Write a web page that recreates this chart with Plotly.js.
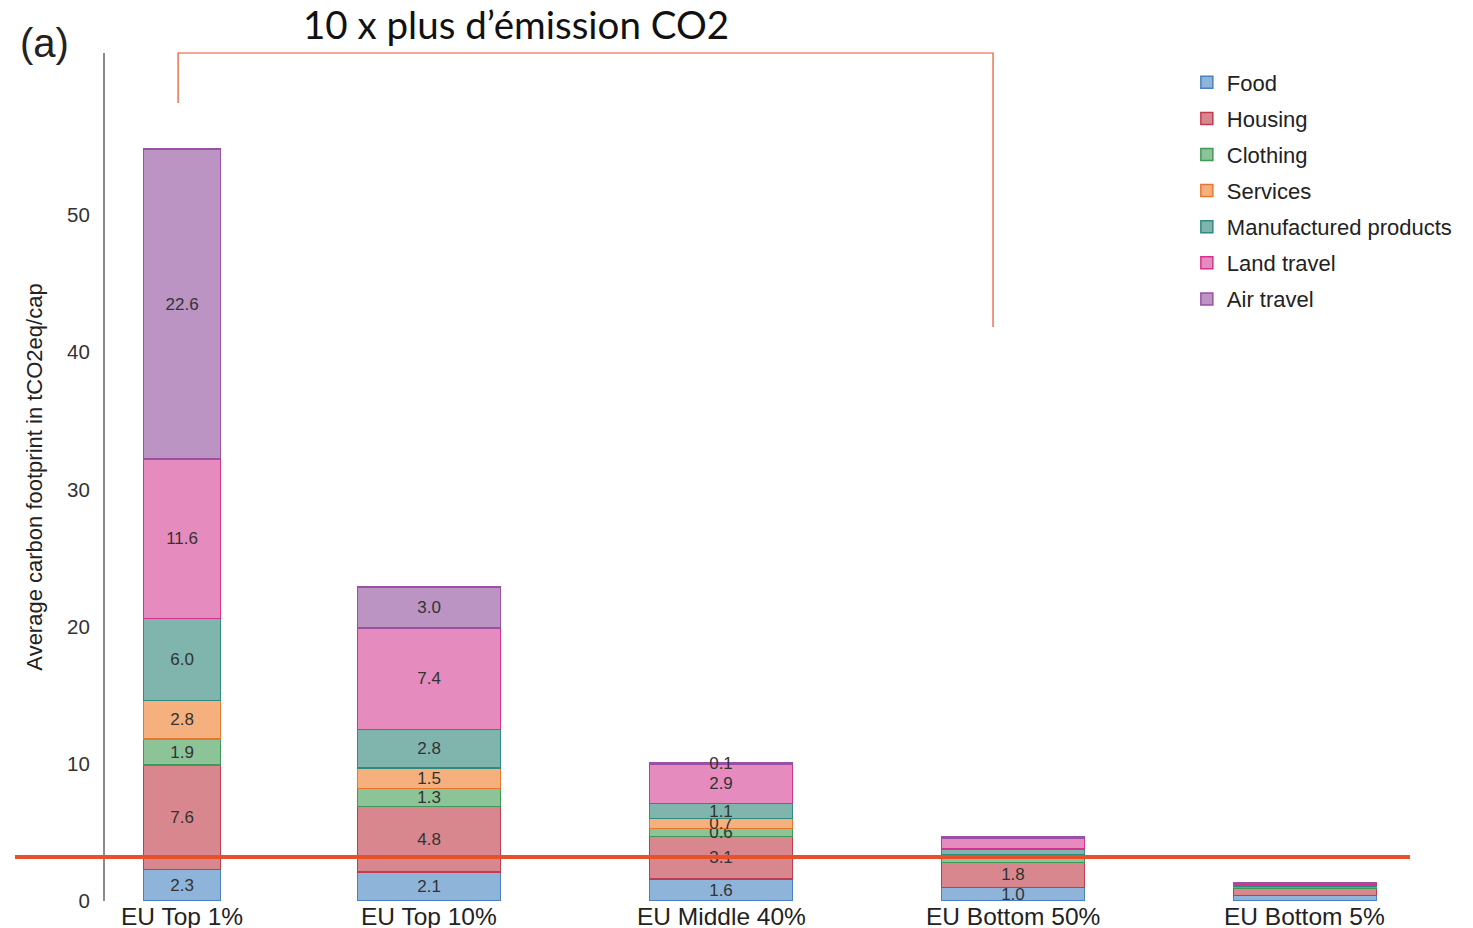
<!DOCTYPE html>
<html>
<head>
<meta charset="utf-8">
<script src="https://cdn.plot.ly/plotly-3.0.1.min.js"></script>
<style>html,body{margin:0;padding:0;background:#fff;}#chart{width:1473px;height:928px;}</style>
</head>
<body>
<div id="chart"></div>
<script>
const categories = ['EU Top 1%', 'EU Top 10%', 'EU Middle 40%', 'EU Bottom 50%', 'EU Bottom 5%'];
const seriesNames = ['Food', 'Housing', 'Clothing', 'Services', 'Manufactured products', 'Land travel', 'Air travel'];
const food         = [2.3, 2.1, 1.6, 1.0, 0.4];
const housing      = [7.6, 4.8, 3.1, 1.8, 0.5];
const clothing     = [1.9, 1.3, 0.6, 0.3, 0.1];
const services     = [2.8, 1.5, 0.7, 0.3, 0.1];
const manufactured = [6.0, 2.8, 1.1, 0.4, 0.1];
const landTravel   = [11.6, 7.4, 2.9, 0.8, 0.1];
const airTravel    = [22.6, 3.0, 0.1, 0.1, 0.05];
const yTickVals = [0, 10, 20, 30, 40, 50];
const titleText = '10 x plus d\u2019émission CO2';
const yTitle = 'Average carbon footprint in tCO2eq/cap';

const seriesValues = [food, housing, clothing, services, manufactured, landTravel, airTravel];
const fills = ['#8fb4da', '#d9878f', '#8cc497', '#f5b07e', '#80b5ae', '#e68bbe', '#bb94c3'];
const borders = ['#4a80c1', '#c23c50', '#3f9a56', '#e8772e', '#2f8a80', '#d5328f', '#9a50a5'];

// which labels are drawn (only the two lowest segments in the Bottom 50% bar, none in Bottom 5%)
function showLabel(si, ci) {
  if (ci < 3) return true;
  if (ci === 3) return si < 2;
  return false;
}

const widths = [0.264, 0.49, 0.49, 0.49, 0.49];
const offsets = widths.map((w, i) => (i === 0 ? 0.154 : 0) - w / 2);

const traces = seriesValues.map((vals, si) => ({
  type: 'bar',
  name: seriesNames[si],
  legendgroup: 'g' + si,
  x: categories,
  y: vals,
  width: widths,
  offset: offsets,
  text: vals.map((v, ci) => showLabel(si, ci) ? v.toFixed(1) : ''),
  textposition: 'inside',
  insidetextanchor: 'middle',
  textangle: 0,
  textfont: {family: 'Liberation Sans, Arial, sans-serif', size: 17, color: '#333'},
  marker: {color: fills[si], line: {color: borders[si], width: 1.5}},
  hoverinfo: 'x+y+name'
}));

const tickAnn = categories.map((c, i) => ({
  x: c, xref: 'x', y: 0, yref: 'paper', yanchor: 'top', yshift: 0,
  xshift: i === 0 ? 45 : 0,
  text: c, showarrow: false,
  font: {family: 'Liberation Sans, Arial, sans-serif', size: 24.5, color: '#222'}
}));

const layout = {
  width: 1473, height: 928,
  margin: {l: 105, r: 63, t: 53, b: 27},
  paper_bgcolor: '#fff', plot_bgcolor: '#fff',
  barmode: 'stack',
  bargap: 0.5,
  uniformtext: {mode: 'show', minsize: 17},
  showlegend: true,
  legend: {
    x: 0.829, xanchor: 'left', y: 0.99, yanchor: 'top',
    traceorder: 'grouped', tracegroupgap: 4.5,
    font: {family: 'Liberation Sans, Arial, sans-serif', size: 22, color: '#222'},
    bgcolor: 'rgba(0,0,0,0)', itemwidth: 30
  },
  xaxis: {
    type: 'category', range: [-0.11, 4.36],
    showticklabels: false, showline: false, showgrid: false, zeroline: false, ticks: ''
  },
  yaxis: {
    range: [0, 61.8], tickvals: yTickVals, ticktext: yTickVals.map(String),
    showline: true, linecolor: '#8a8a8a', linewidth: 2,
    showgrid: false, zeroline: false, ticks: '', ticklen: 0,
    ticklabelstandoff: 9,
    tickfont: {family: 'Liberation Sans, Arial, sans-serif', size: 20.5, color: '#333'},
    title: {text: yTitle, standoff: 18, font: {family: 'Liberation Sans, Arial, sans-serif', size: 22, color: '#222'}}
  },
  annotations: tickAnn.concat([
    {text: titleText, xref: 'paper', yref: 'paper', x: 0.315, y: 1, xanchor: 'center', yanchor: 'bottom', yshift: 4,
     showarrow: false, font: {family: 'Lato, Open Sans, sans-serif', size: 38.5, color: '#111'}},
    {text: '(a)', xref: 'paper', yref: 'paper', x: -0.0467, y: 1, xanchor: 'center', yanchor: 'bottom', yshift: -14,
     showarrow: false, font: {family: 'Liberation Sans, Arial, sans-serif', size: 40, color: '#222'}}
  ]),
  shapes: [
    {type: 'line', xref: 'paper', yref: 'y', x0: -0.069, x1: 1.0, y0: 3.2, y1: 3.2,
     line: {color: '#e8502a', width: 4}},
    {type: 'path', xref: 'paper', yref: 'paper',
     path: 'M 0.0560,0.941 L 0.0560,1.0 L 0.6805,1.0 L 0.6805,0.677',
     line: {color: '#e8502a', width: 1.2}}
  ]
};

Plotly.newPlot('chart', traces, layout, {displayModeBar: false});
</script>
</body>
</html>
